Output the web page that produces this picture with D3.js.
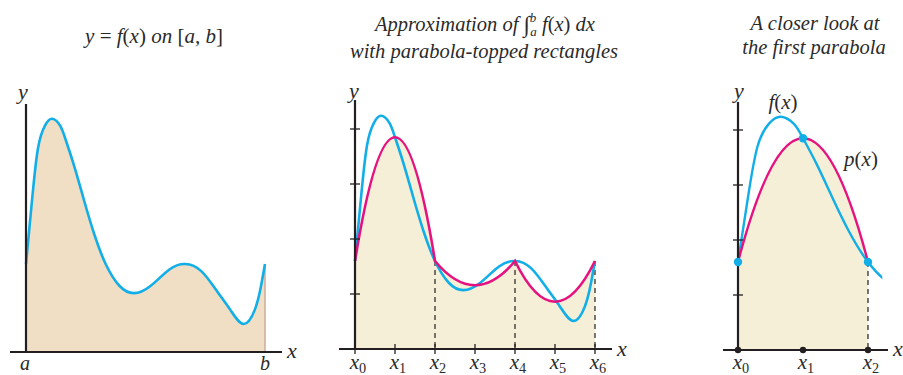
<!DOCTYPE html>
<html><head><meta charset="utf-8">
<script src="https://cdn.jsdelivr.net/npm/d3@7"></script>
<style>
html,body{margin:0;padding:0;background:#fff;}
svg{display:block;}
text{font-family:"Liberation Serif","Times New Roman",serif;fill:#2a2a2a;}
</style></head>
<body>
<svg id="c" width="903" height="375"></svg>
<script>
// ---- data ----
// sampled f(x) on [0,6] (x in node units, y in tick units)
const fXs = [0, 0.15, 0.3, 0.48, 0.66, 0.86, 1.0, 1.21, 1.46, 1.71, 2.0, 2.35, 2.71, 3.125, 3.6, 4.0, 4.4, 4.8, 5.125, 5.46, 5.75, 5.9, 6];
const fYs = [1.6, 2.75, 3.7, 4.12, 4.24, 4.11, 3.85, 3.38, 2.75, 2.15, 1.6, 1.2, 1.07, 1.2, 1.5, 1.6, 1.47, 1.1, 0.77, 0.51, 0.78, 1.2, 1.6];
// end of f just beyond x2 in the closer-look panel
const fTailX = [2.22];
// parabola nodes (values of p at x0..x6)
const nodeXs = [0, 1, 2, 3, 4, 5, 6];
const nodeYs = [1.6, 3.85, 1.6, 1.16, 1.6, 0.86, 1.6];
const nodeLabels = ["0", "1", "2", "3", "4", "5", "6"];
const yTicks = [1, 2, 3, 4];
const zoomNodes = [0, 1, 2];

const CYAN = "#12aee8", MAG = "#e5127f", AX = "#231f20";
const TAN = "#f1dfc5", CREAM = "#f4efd6";
const CURVE = d3.curveNatural;

const svg = d3.select("#c");
const fPts = fXs.map((x, i) => [x, fYs[i]]);

function curvePath(xs, ys, sx, sy) {
  return d3.line().x(d => sx(d[0])).y(d => sy(d[1])).curve(CURVE)(xs.map((x, i) => [x, ys[i]]));
}
function parabolaPath(sx, sy, nx, ny, closeBase) {
  const p = d3.path();
  p.moveTo(sx(nx[0]), sy(ny[0]));
  for (let i = 0; i + 2 < nx.length; i += 2) {
    const cy = 2 * ny[i + 1] - (ny[i] + ny[i + 2]) / 2;
    p.quadraticCurveTo(sx(nx[i + 1]), sy(cy), sx(nx[i + 2]), sy(ny[i + 2]));
  }
  if (closeBase) {
    p.lineTo(sx(nx[nx.length - 1]), sy(0));
    p.lineTo(sx(nx[0]), sy(0));
    p.closePath();
  }
  return p.toString();
}
function mathLabel(g, x, y, base, sub, size, anchor) {
  const t = g.append("text").attr("x", x).attr("y", y).attr("text-anchor", anchor || "middle")
    .style("font-size", size + "px").style("font-style", "italic");
  t.append("tspan").text(base);
  if (sub !== null) t.append("tspan").attr("dy", 4).style("font-size", (size * 0.68) + "px").style("font-style", "normal").text(sub);
  return t;
}
function fnLabel(g, x, y, name, size) {
  const t = g.append("text").attr("x", x).attr("y", y).attr("text-anchor", "middle").style("font-size", size + "px").style("font-style", "italic");
  t.append("tspan").text(name); t.append("tspan").style("font-style", "normal").text("(");
  t.append("tspan").text("x"); t.append("tspan").style("font-style", "normal").text(")");
  return t;
}
function yAxisTicks(g, ax, sy) {
  g.selectAll(null).data(yTicks).enter().append("line")
    .attr("x1", ax - 5).attr("x2", ax + 5).attr("y1", d => sy(d)).attr("y2", d => sy(d))
    .attr("stroke", AX).attr("stroke-width", 1.3);
}

// ================= Panel 1 =================
{
  const sx = d3.scaleLinear().domain([0, 6]).range([26, 265]);
  const sy = d3.scaleLinear().domain([0, 1]).range([352, 297]);
  const g = svg.append("g");
  const area = d3.area().x(d => sx(d[0])).y0(sy(0)).y1(d => sy(d[1])).curve(CURVE);
  g.append("path").attr("d", area(fPts)).attr("fill", TAN);
  g.append("line").attr("x1", sx(6)).attr("x2", sx(6)).attr("y1", sy(fYs[fYs.length - 1])).attr("y2", sy(0))
    .attr("stroke", "#c9ae98").attr("stroke-width", 1.5);
  g.append("path").attr("d", curvePath(fXs, fYs, sx, sy)).attr("fill", "none").attr("stroke", CYAN).attr("stroke-width", 2.6);
  g.append("line").attr("x1", sx(0)).attr("x2", sx(0)).attr("y1", 104).attr("y2", sy(0) + 1).attr("stroke", AX).attr("stroke-width", 2.2);
  g.append("line").attr("x1", 10).attr("x2", 282).attr("y1", sy(0)).attr("y2", sy(0)).attr("stroke", AX).attr("stroke-width", 2.2);
  mathLabel(g, 292, 358, "x", null, 22);
  mathLabel(g, 23, 99, "y", null, 22);
  mathLabel(g, sx(0) - 1, 370, "a", null, 20);
  mathLabel(g, sx(6), 370, "b", null, 20);
  const t = g.append("text").attr("x", 154).attr("y", 43).attr("text-anchor", "middle").style("font-size", "21px").style("font-style", "italic");
  t.append("tspan").text("y ");
  t.append("tspan").style("font-style", "normal").text("=");
  t.append("tspan").text(" f");
  t.append("tspan").style("font-style", "normal").text("(");
  t.append("tspan").text("x");
  t.append("tspan").style("font-style", "normal").text(")");
  t.append("tspan").text(" on ");
  t.append("tspan").style("font-style", "normal").text("[");
  t.append("tspan").text("a, b");
  t.append("tspan").style("font-style", "normal").text("]");
}

// ================= Panel 2 =================
{
  const sx = d3.scaleLinear().domain([0, 6]).range([355, 595]);
  const sy = d3.scaleLinear().domain([0, 1]).range([349, 294]);
  const g = svg.append("g");
  g.append("path").attr("d", parabolaPath(sx, sy, nodeXs, nodeYs, true)).attr("fill", CREAM);
  g.selectAll(null).data([2, 4, 6]).enter().append("line")
    .attr("x1", d => sx(d)).attr("x2", d => sx(d)).attr("y1", d => sy(nodeYs[d])).attr("y2", sy(0))
    .attr("stroke", AX).attr("stroke-width", 1.2).attr("stroke-dasharray", "5,4");
  g.append("path").attr("d", curvePath(fXs, fYs, sx, sy)).attr("fill", "none").attr("stroke", CYAN).attr("stroke-width", 2.6);
  g.append("path").attr("d", parabolaPath(sx, sy, nodeXs, nodeYs, false)).attr("fill", "none").attr("stroke", MAG).attr("stroke-width", 2.6);
  g.append("line").attr("x1", sx(0)).attr("x2", sx(0)).attr("y1", 100).attr("y2", sy(0) + 1).attr("stroke", AX).attr("stroke-width", 2.2);
  g.append("line").attr("x1", 339).attr("x2", 612).attr("y1", sy(0)).attr("y2", sy(0)).attr("stroke", AX).attr("stroke-width", 2.2);
  yAxisTicks(g, sx(0), sy);
  g.selectAll(null).data(nodeXs).enter().append("line")
    .attr("x1", d => sx(d)).attr("x2", d => sx(d)).attr("y1", sy(0) - 5).attr("y2", sy(0) + 5)
    .attr("stroke", AX).attr("stroke-width", 1.3);
  nodeXs.forEach((d, i) => mathLabel(g, sx(d) + 3, 369, "x", nodeLabels[i], 21));
  mathLabel(g, 622, 356, "x", null, 22);
  mathLabel(g, 354, 98, "y", null, 22);
  const t1 = g.append("text").attr("x", 485).attr("y", 31).attr("text-anchor", "middle").style("font-size", "20.5px").style("font-style", "italic");
  t1.append("tspan").text("Approximation of ");
  t1.append("tspan").attr("dy", 1).style("font-size", "23px").text("∫");
  t1.append("tspan").attr("dy", -10).style("font-size", "13px").text("b");
  t1.append("tspan").attr("dx", -6).attr("dy", 14).style("font-size", "13px").text("a");
  t1.append("tspan").attr("dy", -5).text(" f");
  t1.append("tspan").style("font-style", "normal").text("(");
  t1.append("tspan").text("x");
  t1.append("tspan").style("font-style", "normal").text(")");
  t1.append("tspan").text(" dx");
  g.append("text").attr("x", 484).attr("y", 58).attr("text-anchor", "middle").style("font-size", "20.5px").style("font-style", "italic")
    .text("with parabola-topped rectangles");
}

// ================= Panel 3 =================
{
  const sx = d3.scaleLinear().domain([0, 2]).range([738, 868]);
  const sy = d3.scaleLinear().domain([0, 1]).range([350, 295]);
  const g = svg.append("g");
  const nx = zoomNodes, ny = zoomNodes.map(i => nodeYs[i]);
  g.append("path").attr("d", parabolaPath(sx, sy, nx, ny, true)).attr("fill", CREAM);
  g.append("line").attr("x1", sx(2)).attr("x2", sx(2)).attr("y1", sy(ny[2])).attr("y2", sy(0))
    .attr("stroke", AX).attr("stroke-width", 1.2).attr("stroke-dasharray", "5,4");
  const nIn = fXs.filter(x => x <= 2.71).length;
  const zx = fXs.slice(0, nIn), zy = fYs.slice(0, nIn);
  g.append("clipPath").attr("id", "clip3").append("rect").attr("x", sx(0) - 3).attr("y", 0).attr("width", sx(fTailX[0]) - sx(0) + 3).attr("height", 375);
  g.append("path").attr("d", curvePath(zx, zy, sx, sy)).attr("fill", "none").attr("stroke", CYAN).attr("stroke-width", 2.4)
    .attr("clip-path", "url(#clip3)");
  g.append("path").attr("d", parabolaPath(sx, sy, nx, ny, false)).attr("fill", "none").attr("stroke", MAG).attr("stroke-width", 2.4);
  g.append("line").attr("x1", sx(0)).attr("x2", sx(0)).attr("y1", 102).attr("y2", sy(0) + 1).attr("stroke", AX).attr("stroke-width", 2.2);
  g.append("line").attr("x1", 723).attr("x2", 888).attr("y1", sy(0)).attr("y2", sy(0)).attr("stroke", AX).attr("stroke-width", 2.2);
  yAxisTicks(g, sx(0), sy);
  g.selectAll(null).data(nx).enter().append("circle").attr("cx", d => sx(d)).attr("cy", sy(0)).attr("r", 3.2).attr("fill", AX);
  g.selectAll(null).data(nx).enter().append("circle").attr("cx", d => sx(d)).attr("cy", (d, i) => sy(ny[i])).attr("r", 4.2).attr("fill", CYAN);
  nx.forEach((d, i) => mathLabel(g, sx(d) + 3, 369, "x", nodeLabels[i], 21));
  mathLabel(g, 893, 356, "x", null, 22, "start");
  mathLabel(g, 739, 98, "y", null, 22);
  fnLabel(g, 783, 109, "f", 21);
  fnLabel(g, 861, 166, "p", 21);
  g.append("text").attr("x", 815).attr("y", 30).attr("text-anchor", "middle").style("font-size", "20.5px").style("font-style", "italic").text("A closer look at");
  g.append("text").attr("x", 814).attr("y", 54).attr("text-anchor", "middle").style("font-size", "20.5px").style("font-style", "italic").text("the first parabola");
}
</script>
</body></html>
